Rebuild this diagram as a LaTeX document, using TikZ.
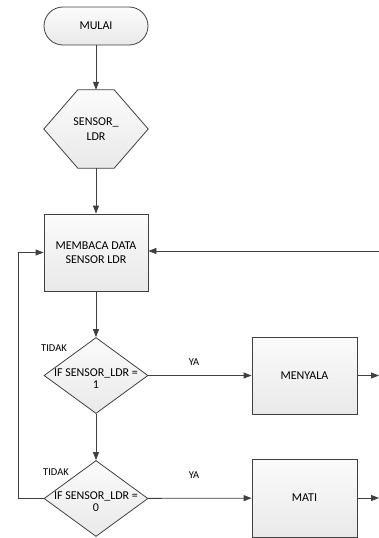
\documentclass[tikz,border=0pt]{standalone}
\usepackage{fontspec}
\setmainfont{Carlito}
\usepackage{tikz}
\usetikzlibrary{
  arrows.meta,
  shapes.geometric,
  calc,
  backgrounds
}
\usepackage{xcolor}
\definecolor{cline}{RGB}{64,64,64}
\definecolor{ltop}{RGB}{251,251,251}
\definecolor{lbot}{RGB}{233,233,233}
\newcommand{\dtext}[2]{%
  \raisebox{-13pt}[0pt][0pt]{\makebox[0pt]{\shortstack{#1\\#2}}}}
\tikzset{
  base/.style={
    draw=cline, line width=0.8pt,
    top color=ltop, bottom color=lbot,
    font=\fontsize{12}{14.5}\selectfont, align=center
  },
  term/.style={
    base, rectangle, rounded corners=19pt,
    minimum width=104pt, minimum height=38pt
  },
  proc/.style={
    base, rectangle,
    minimum width=104pt, minimum height=77pt
  },
  hexa/.style={
    rectangle, draw=none,
    minimum width=104pt, minimum height=78pt,
    font=\fontsize{12}{14.5}\selectfont, align=center
  },
  decide/.style={
    base, diamond, inner sep=0pt,
    minimum width=104pt, minimum height=76pt
  },
  lbl/.style={font=\fontsize{10.5}{12}\selectfont},
  arr/.style={-{Triangle[length=8pt, width=6pt]}, line width=0.8pt, color=#1},
  arr/.default=cline
}

\begin{document}
\begin{tikzpicture}[x=1pt, y=-1pt]

    \useasboundingbox (0,0) rectangle (379,538);

    %% Main column
    \node[term]  (mulai)  at (96,26)    {MULAI};
    \node[hexa]  (sensor) at (96,129)   {SENSOR\_\\LDR};
    \node[proc]  (baca)   at (96,252.5) {MEMBACA DATA\\SENSOR LDR};
    \node[decide] (cek1)  at (96,375.5) {\dtext{IF SENSOR\_LDR =}{1}};
    \node[decide] (cek2)  at (96,498.5) {\dtext{IF SENSOR\_LDR =}{0}};

    %% Hexagon outline behind its text
    \begin{scope}[on background layer]
      \draw[base] (sensor.west)
        -- ($(sensor.north west)+(34,0)$) -- ($(sensor.north east)+(-34,0)$)
        -- (sensor.east)
        -- ($(sensor.south east)+(-34,0)$) -- ($(sensor.south west)+(34,0)$)
        -- cycle;
    \end{scope}

    %% Outputs
    \node[proc, minimum width=105pt] (nyala) at (304.5,375.5) {MENYALA};
    \node[proc, minimum width=105pt, minimum height=78pt] (mati) at (304.5,498) {MATI};

    %% Branch labels
    \node[lbl] (tidak1) at (54,348) {TIDAK};
    \node[lbl] (ya1)    at (194,362) {YA};
    \node[lbl] (tidak2) at (56,472) {TIDAK};
    \node[lbl] (ya2)    at (194,475) {YA};

    %% Free ends
    \coordinate (outA) at (379,375.5);
    \coordinate (outB) at (379,498);
    \coordinate (inA)  at (379,251);
    \coordinate (loopL) at (18,498.5);

    %% Connectors
    \draw[arr] (mulai) -- (sensor);
    \draw[arr] (sensor) -- (baca);
    \draw[arr] (baca) -- (cek1);
    \draw[arr] (cek1) -- (cek2);
    \draw[arr] (cek1) -- (nyala);
    \draw[arr] (cek2) -- (mati);
    \draw[arr] (nyala) -- (outA);
    \draw[arr] (mati) -- (outB);
    \draw[arr] (inA) -- (inA -| baca.east);
    \draw[arr] (cek2.west) -- (loopL) |- (baca.west);

\end{tikzpicture}
\end{document}
